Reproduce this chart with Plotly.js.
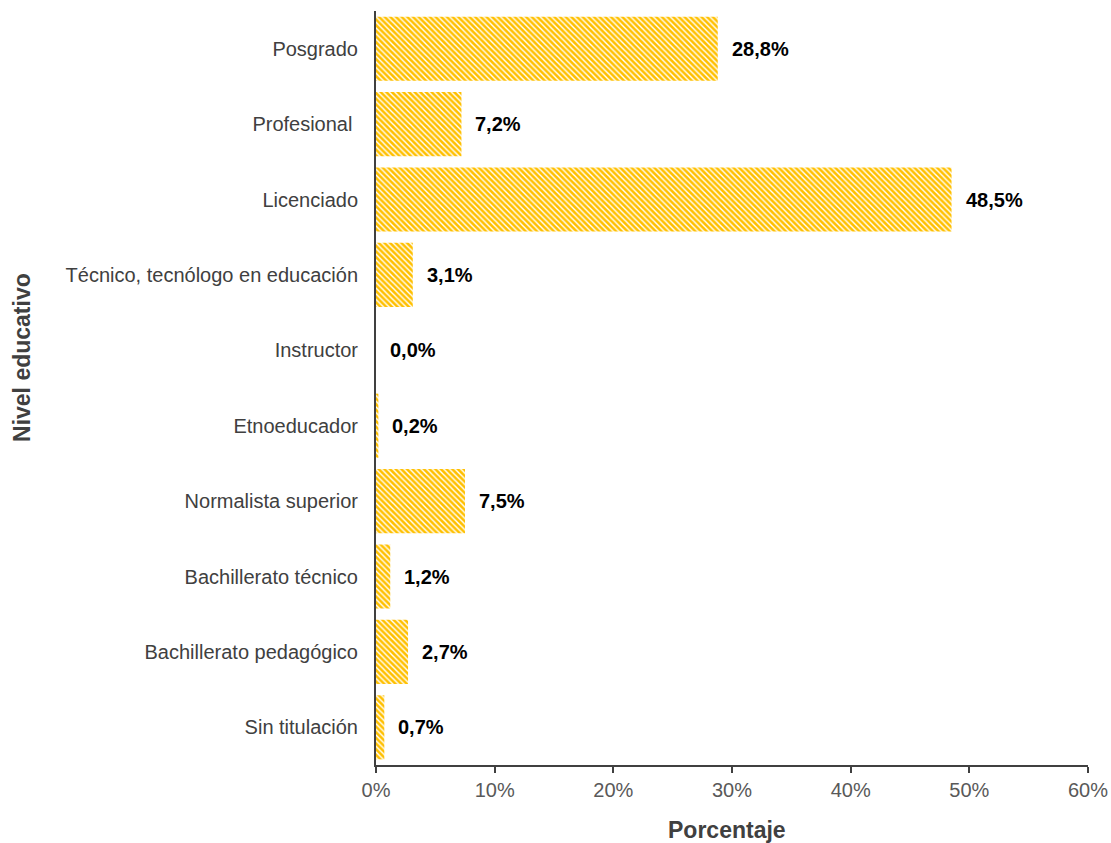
<!DOCTYPE html>
<html>
<head>
<meta charset="utf-8">
<script src="https://cdn.plot.ly/plotly-3.0.1.min.js"></script>
<style>html,body{margin:0;padding:0;background:#fff;}#chart{width:1111px;height:843px;}</style>
</head>
<body>
<div id="chart"></div>
<script>
const categories = ["Posgrado","Profesional ","Licenciado","Técnico, tecnólogo en educación","Instructor","Etnoeducador","Normalista superior","Bachillerato técnico","Bachillerato pedagógico","Sin titulación"];
const values = [28.8, 7.2, 48.5, 3.1, 0.0, 0.2, 7.5, 1.2, 2.7, 0.7];
const labels = ["28,8%","7,2%","48,5%","3,1%","0,0%","0,2%","7,5%","1,2%","2,7%","0,7%"];
const xTicks = [0,10,20,30,40,50,60];
const xTickLabels = ["0%","10%","20%","30%","40%","50%","60%"];

const FONT = 'Liberation Sans, Arial, sans-serif';

const trace = {
  type: 'bar',
  orientation: 'h',
  y: categories,
  x: values,
  width: 0.85,
  marker: {
    color: '#FFC000',
    line: {width: 0},
    pattern: {shape: '\\', bgcolor: '#FFC000', fgcolor: '#ffffff', size: 4, solidity: 0.35}
  },
  hoverinfo: 'skip'
};

const annotations = categories.map((c, i) => ({
  x: values[i], y: c, xref: 'x', yref: 'y',
  text: '<b>' + labels[i] + '</b>',
  showarrow: false, xanchor: 'left', xshift: 12,
  font: {family: FONT, size: 20, color: '#000000'}
}));
annotations.push({
  xref: 'paper', yref: 'paper', x: 0.493, y: -0.066,
  text: '<b>Porcentaje</b>', showarrow: false, xanchor: 'center', yanchor: 'top',
  font: {family: FONT, size: 23, color: '#404040'}
});
annotations.push({
  xref: 'paper', yref: 'paper', x: -0.497, y: 0.54,
  text: '<b>Nivel educativo</b>', showarrow: false, textangle: -90, xanchor: 'center', yanchor: 'middle',
  font: {family: FONT, size: 23, color: '#404040'}
});

const layout = {
  width: 1111, height: 843,
  margin: {l: 376, r: 23, t: 11, b: 78},
  paper_bgcolor: '#ffffff', plot_bgcolor: '#ffffff',
  showlegend: false,
  font: {family: FONT},
  xaxis: {
    range: [0, 60], tickvals: xTicks, ticktext: xTickLabels,
    showgrid: false, zeroline: false,
    showline: true, linecolor: '#404040', linewidth: 2,
    ticks: 'outside', ticklen: 6, tickwidth: 2, tickcolor: '#404040',
    tickfont: {size: 20, color: '#595959'},
    fixedrange: true
  },
  yaxis: {
    type: 'category', autorange: 'reversed',
    showgrid: false, zeroline: false,
    showline: true, linecolor: '#404040', linewidth: 2,
    ticks: 'outside', ticklen: 12, tickcolor: 'rgba(0,0,0,0)',
    tickfont: {size: 20, color: '#404040'},
    fixedrange: true
  },
  annotations: annotations
};

Plotly.newPlot('chart', [trace], layout, {displayModeBar: false, staticPlot: true});
</script>
</body>
</html>
